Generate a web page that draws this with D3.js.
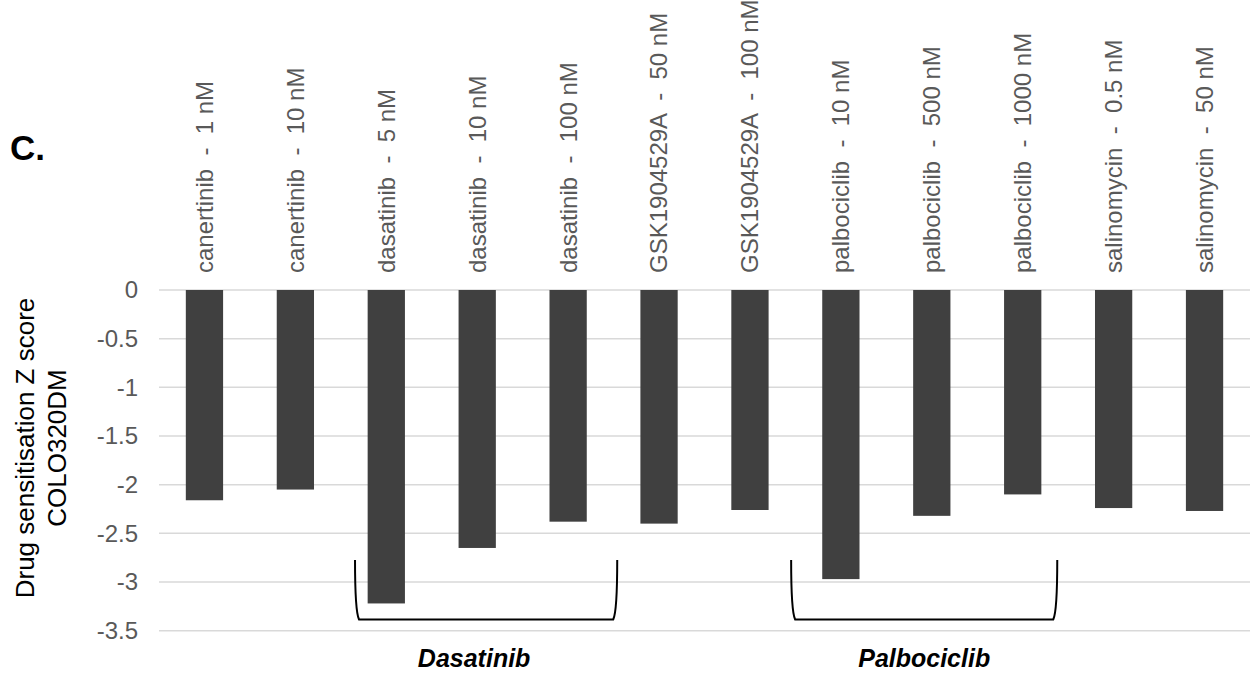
<!DOCTYPE html>
<html>
<head>
<meta charset="utf-8">
<script src="https://cdn.jsdelivr.net/npm/d3@7"></script>
<style>
  html, body { margin: 0; padding: 0; background: #fff; }
  svg { display: block; font-family: "Liberation Sans", Arial, sans-serif; }
</style>
</head>
<body>
<svg id="chart" width="1253" height="676"></svg>
<script>
const categories = [
  "canertinib  -  1 nM", "canertinib  -  10 nM",
  "dasatinib  -  5 nM", "dasatinib  -  10 nM", "dasatinib  -  100 nM",
  "GSK1904529A  -  50 nM", "GSK1904529A  -  100 nM",
  "palbociclib  -  10 nM", "palbociclib  -  500 nM", "palbociclib  -  1000 nM",
  "salinomycin  -  0.5 nM", "salinomycin  -  50 nM"
];
const values = [-2.16, -2.05, -3.22, -2.65, -2.38, -2.40, -2.26, -2.97, -2.32, -2.10, -2.24, -2.27];
const yTicks = [0, -0.5, -1, -1.5, -2, -2.5, -3, -3.5];
const yTickLabels = ["0", "-0.5", "-1", "-1.5", "-2", "-2.5", "-3", "-3.5"];
const groupLabels = ["Dasatinib", "Palbociclib"];
const groupFirst = [2, 7];
const groupLast = [4, 9];
const yTitleLines = ["Drug sensitisation Z score", "COLO320DM"];
const panelLabel = "C.";

(function () {
const svg = d3.select("#chart");
const pLeft = 159, pRight = 1250, pTop = 290, pBottom = 630.7;

const x = d3.scaleBand().domain(categories).range([pLeft, pRight])
  .paddingInner(0.59).paddingOuter(0.295);
const y = d3.scaleLinear().domain([0, -3.5]).range([pTop, pBottom]);
const gap = (x.step() - x.bandwidth()) / 2;
const stepStart = c => x(c) - gap;
const stepEnd = c => x(c) + x.bandwidth() + gap;

// gridlines
svg.append("g").selectAll("line").data(yTicks).join("line")
  .attr("x1", pLeft).attr("x2", pRight)
  .attr("y1", d => y(d)).attr("y2", d => y(d))
  .attr("stroke", "#d9d9d9").attr("stroke-width", 1.5);

// y tick labels
svg.append("g").selectAll("text").data(yTicks).join("text")
  .attr("x", pLeft - 21).attr("y", d => y(d))
  .attr("dy", "0.35em")
  .attr("text-anchor", "end")
  .attr("fill", "#595959")
  .attr("font-size", 24)
  .text((d, i) => yTickLabels[i]);

// bars
svg.append("g").selectAll("rect").data(values).join("rect")
  .attr("x", (d, i) => x(categories[i]))
  .attr("width", x.bandwidth())
  .attr("y", d => y(Math.max(0, d)))
  .attr("height", d => Math.abs(y(d) - y(0)))
  .attr("fill", "#404040");

// category labels (rotated)
svg.append("g").selectAll("text").data(categories).join("text")
  .attr("transform", d => `translate(${x(d) + x.bandwidth() / 2},273) rotate(-90)`)
  .attr("dy", "0.35em")
  .attr("text-anchor", "start")
  .attr("fill", "#595959")
  .attr("font-size", 24)
  .style("white-space", "pre")
  .text(d => d);

// y axis title
const yt = svg.append("text")
  .attr("transform", `translate(24.5,448) rotate(-90)`)
  .attr("text-anchor", "middle")
  .attr("fill", "#000")
  .attr("font-size", 26);
yt.append("tspan").attr("x", 0).attr("dy", "9px").text(yTitleLines[0]);
yt.append("tspan").attr("x", 0).attr("dy", "32.5px").text(yTitleLines[1]);

// panel label
svg.append("text").attr("x", 10).attr("y", 160)
  .attr("font-size", 35).attr("font-weight", "bold").attr("fill", "#000")
  .text(panelLabel);

// brackets
const bw = x.step();
const leftOff = [0.156, -0.047];
const rightOff = [0.04, -0.12];
const textShift = [-12, 0];
const bTop = 560, bBot = 619.5;
groupLabels.forEach((g, k) => {
  const x1 = stepStart(categories[groupFirst[k]]) + leftOff[k] * bw;
  const x2 = stepEnd(categories[groupLast[k]]) + rightOff[k] * bw;
  const p = d3.path();
  p.moveTo(x1, bTop);
  p.bezierCurveTo(x1, bTop + 30, x1 + 1, bBot - 6, x1 + 4, bBot);
  p.lineTo(x2 - 4, bBot);
  p.bezierCurveTo(x2 - 1, bBot - 6, x2, bTop + 30, x2, bTop);
  svg.append("path").attr("d", p.toString())
    .attr("fill", "none").attr("stroke", "#000").attr("stroke-width", 2);
  svg.append("text")
    .attr("x", (x1 + x2) / 2 + textShift[k])
    .attr("y", 667)
    .attr("text-anchor", "middle")
    .attr("font-size", 25).attr("font-weight", "bold").attr("font-style", "italic")
    .attr("fill", "#000")
    .text(g);
});
})();
</script>
</body>
</html>
